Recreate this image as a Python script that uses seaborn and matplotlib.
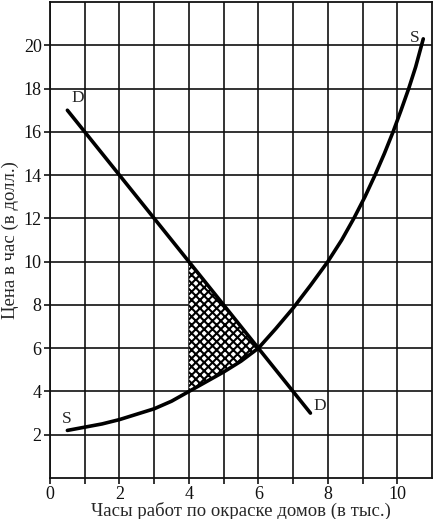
import numpy as np
import pandas as pd
import matplotlib
matplotlib.use("Agg")
import matplotlib.pyplot as plt
import seaborn as sns

# demand (D) and supply (S) curves
demand_q = [0.5, 7.5]
demand_p = [17.0, 3.0]

supply_q = [0.5, 1, 1.5, 2, 2.5, 3, 3.5, 4, 4.5, 5, 5.5, 6, 6.5, 7, 7.5, 8,
            8.4, 8.75, 9.07, 9.36, 9.63, 9.88, 10.11, 10.33, 10.53, 10.75]
supply_p = [2.2, 2.35, 2.5, 2.7, 2.95, 3.2, 3.55, 4.0, 4.45, 4.9, 5.4, 6.0, 6.9, 7.85, 8.9, 10.0,
            11, 12, 13, 14, 15, 16, 17, 18, 19, 20.3]

# shaded area between the curves
shade_q = [4, 4.5, 5, 5.5, 6]
shade_top = [10, 9, 8, 7, 6]
shade_bottom = [4.0, 4.45, 4.9, 5.4, 6.0]

x_ticks = [0, 2, 4, 6, 8, 10]
y_ticks = [2, 4, 6, 8, 10, 12, 14, 16, 18, 20]

sns.set_style("white")
plt.rcParams['font.family'] = ['Liberation Serif', 'DejaVu Serif']
plt.rcParams['hatch.linewidth'] = 1.5

fig = plt.figure(figsize=(4.35, 5.19), dpi=100)
ax = fig.add_axes([0.115, 0.079, 0.878, 0.917])

dem = pd.DataFrame({"q": demand_q, "p": demand_p})
sup = pd.DataFrame({"q": supply_q, "p": supply_p})

ax.fill_between(shade_q, shade_bottom, shade_top, facecolor="white",
                edgecolor="black", hatch="xxxx", linewidth=0, zorder=2)

sns.lineplot(data=dem, x="q", y="p", color="black", lw=2.6, ax=ax, zorder=3)
sns.lineplot(data=sup, x="q", y="p", color="black", lw=2.6, ax=ax, zorder=3, sort=False)

ax.text(0.62, 17.4, "D", fontsize=12.5)
ax.text(7.58, 3.15, "D", fontsize=12.5)
ax.text(0.35, 2.55, "S", fontsize=12.5)
ax.text(10.35, 20.15, "S", fontsize=12.5)

ax.set_xlim(0, 11)
ax.set_ylim(0, 22)
ax.set_xticks(x_ticks)
ax.set_xticks(np.arange(1, 11, 2), minor=True)
ax.set_yticks(y_ticks)
ax.grid(True, which="both", color="#111111", lw=1.2, zorder=1)
ax.tick_params(which="both", direction="out", length=4, width=1.2, pad=2,
               labelsize=13, colors="#111111", bottom=True, left=True)
for s in ax.spines.values():
    s.set_color("#111111")
    s.set_linewidth(1.3)

ax.set_xlabel("Часы работ по окраске домов (в тыс.)", fontsize=13.5, labelpad=-1)
ax.set_ylabel("Цена в час (в долл.)", fontsize=13.5, labelpad=3)

fig.savefig("out.png", dpi=100)
